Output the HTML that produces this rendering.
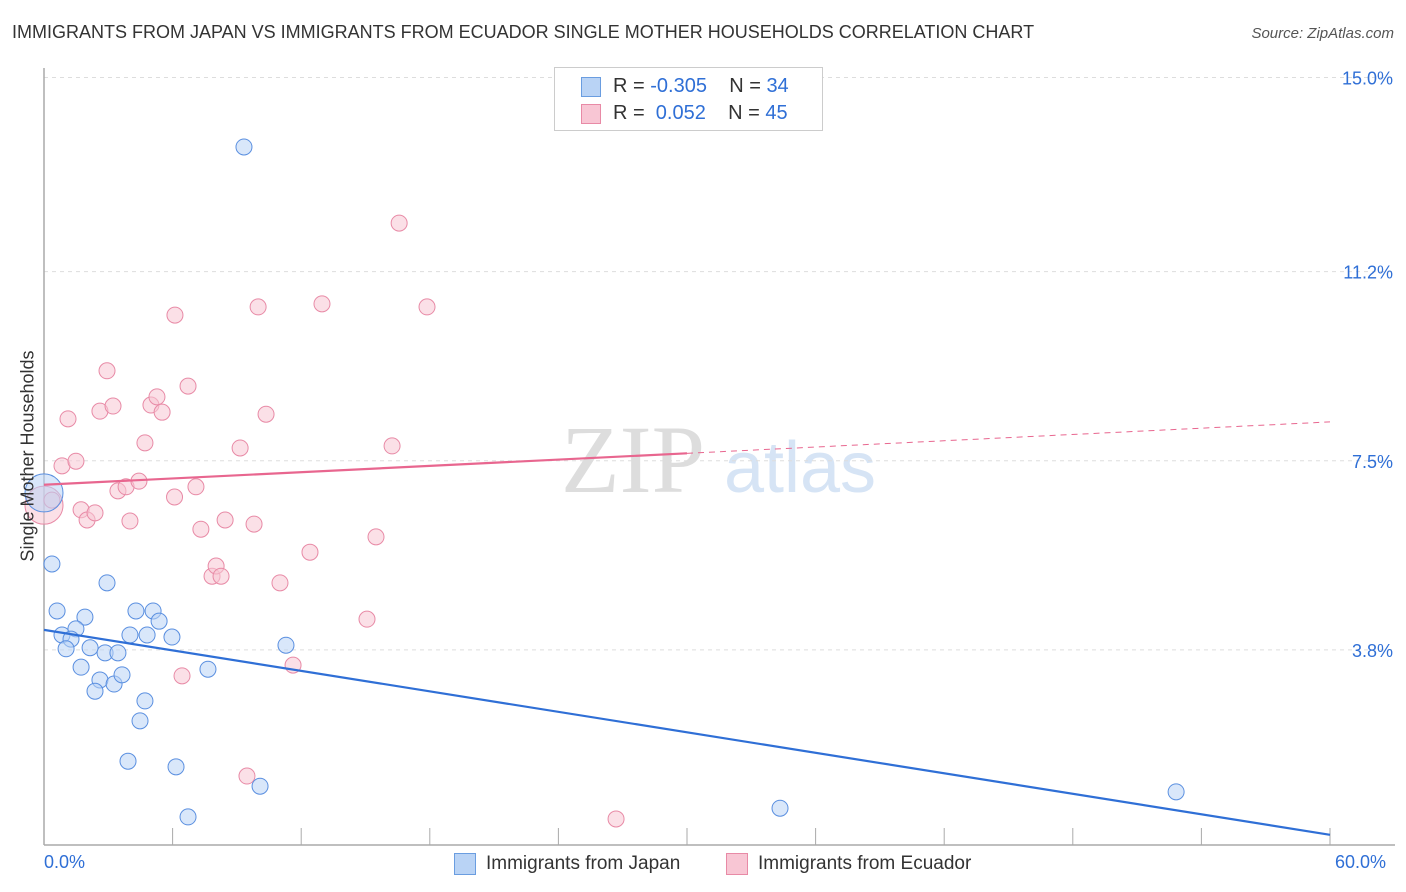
<!DOCTYPE html>
<html><head><meta charset="utf-8"><style>
body{margin:0;background:#fff;font-family:"Liberation Sans",sans-serif;}
#wrap{position:relative;width:1406px;height:892px;overflow:hidden;}
.t{position:absolute;white-space:nowrap;}
</style></head><body>
<div id="wrap">
<div class="t" style="left:12px;top:22px;font-size:18px;color:#333;">IMMIGRANTS FROM JAPAN VS IMMIGRANTS FROM ECUADOR SINGLE MOTHER HOUSEHOLDS CORRELATION CHART</div>
<div class="t" style="right:12px;top:25px;font-size:15px;color:#555;font-style:italic;">Source: ZipAtlas.com</div>
<svg id="svg" width="1406" height="892" style="position:absolute;left:0;top:0">
<text x="633" y="492" font-size="96" fill="#ddd" font-family="Liberation Serif" text-anchor="middle">ZIP</text>
<text x="800" y="492" font-size="72" fill="#d6e4f5" text-anchor="middle">atlas</text>
</svg>
<div style="position:absolute;left:554px;top:67px;width:267px;height:62px;border:1px solid #ccc;background:#fff;font-size:20px;">
 <div style="position:absolute;left:26px;top:9px;width:18px;height:18px;background:#b9d3f5;border:1px solid #6a9de0"></div>
 <div class="t" style="left:58px;top:7px;color:#333">R = <span style="color:#2f6fd6">-0.305</span>&nbsp;&nbsp;&nbsp; N = <span style="color:#2f6fd6">34</span></div>
 <div style="position:absolute;left:26px;top:36px;width:18px;height:18px;background:#f8c6d4;border:1px solid #e88aa6"></div>
 <div class="t" style="left:58px;top:34px;color:#333">R = &nbsp;<span style="color:#2f6fd6">0.052</span>&nbsp;&nbsp;&nbsp; N = <span style="color:#2f6fd6">45</span></div>
</div>
<div class="t" style="left:28px;top:456px;font-size:18px;color:#333;transform:translate(-50%,-50%) rotate(-90deg);">Single Mother Households</div>
<div class="t" style="left:44px;top:852px;font-size:18px;color:#2f6fd6;">0.0%</div>
<div class="t" style="left:1335px;top:852px;font-size:18px;color:#2f6fd6;">60.0%</div>
<div style="position:absolute;left:454px;top:853px;width:20px;height:20px;background:#b9d3f5;border:1px solid #6a9de0"></div>
<div class="t" style="left:486px;top:853px;font-size:19px;color:#333">Immigrants from Japan</div>
<div style="position:absolute;left:726px;top:853px;width:20px;height:20px;background:#f8c6d4;border:1px solid #e88aa6"></div>
<div class="t" style="left:758px;top:853px;font-size:19px;color:#333">Immigrants from Ecuador</div>
</div>
<script>
const yTicks=[3.8,7.5,11.2,15.0];
const yTickLabels=["3.8%","7.5%","11.2%","15.0%"];
const xTicks=[0,6,12,18,24,30,36,42,48,54,60];
const japanX=[0,0.37,0.61,1.91,0.84,1.49,1.26,1.03,2.15,2.85,3.45,1.73,2.61,3.27,3.64,2.38,2.94,4.29,5.09,5.37,4.01,4.81,5.97,4.71,4.48,7.65,11.29,3.92,6.16,10.08,6.72,9.33,34.34,52.82];
const japanY=[6.89,5.50,4.58,4.46,4.11,4.23,4.03,3.84,3.86,3.76,3.76,3.48,3.23,3.15,3.33,3.01,5.13,4.58,4.58,4.38,4.11,4.11,4.07,2.82,2.43,3.44,3.91,1.64,1.53,1.15,0.55,13.66,0.72,1.04];
const ecuadorX=[0,0.37,0.84,1.49,1.12,1.73,2.01,2.38,2.61,2.94,3.22,3.45,3.83,4.43,4.01,4.71,4.99,5.27,5.51,6.09,6.11,6.72,7.09,7.32,7.84,8.03,8.26,8.45,9.15,9.80,9.99,10.36,11.01,11.62,12.41,12.97,15.07,15.49,16.24,16.57,17.87,6.44,9.47,26.69,28.32];
const ecuadorY=[6.65,6.75,7.42,7.51,8.34,6.56,6.36,6.50,8.49,9.28,8.59,6.93,7.01,7.12,6.34,7.87,8.61,8.77,8.47,6.81,10.37,8.98,7.01,6.18,5.26,5.46,5.26,6.36,7.77,6.28,10.53,8.43,5.13,3.52,5.73,10.59,4.42,6.03,7.81,12.17,10.53,3.31,1.35,0.51,14.21];
const japanTrend=[4.21,0.20];
const ecuadorTrend=[7.05,8.28];
const X=v=>44+v*(1286/60);
const Y=v=>845-v*51.1;
const svg=document.getElementById('svg');
const NS='http://www.w3.org/2000/svg';
function mk(t,a){const e=document.createElementNS(NS,t);for(const k in a)e.setAttribute(k,a[k]);svg.appendChild(e);return e;}
yTicks.forEach((v,i)=>{
 const g=mk('line',{x1:44,x2:1395,y1:Y(v)-1,y2:Y(v)-1,stroke:'#ddd','stroke-dasharray':'4,4'});
 
 
 const t=mk('text',{x:1393,y:Y(v)+6,'text-anchor':'end','font-size':18,fill:'#2f6fd6'});
 t.textContent=yTickLabels[i];
 
 
});
const ax=mk('line',{x1:44,x2:44,y1:68,y2:845,stroke:'#aaa','stroke-width':1.5});


const bx=mk('line',{x1:44,x2:1395,y1:845,y2:845,stroke:'#aaa','stroke-width':1.5});


xTicks.forEach(v=>{
 const l=mk('line',{x1:X(v),x2:X(v),y1:828,y2:845,stroke:'#aaa'});
 
 
});
function pts(xs,ys,fill,stroke,name){
 xs.forEach((x,i)=>{
  const r=(x===0)?19:8;
  const c=mk('circle',{cx:X(x),cy:Y(ys[i]),r:r,fill:fill,'fill-opacity':0.55,stroke:stroke,'stroke-width':1});
  
  
 });
}
pts(ecuadorX,ecuadorY,'#f8c6d4','#e88aa6','ecuador-point');
pts(japanX,japanY,'#b9d3f5','#5a8fe0','japan-point');
const jl=mk('line',{x1:X(0),y1:Y(japanTrend[0]),x2:X(60),y2:Y(japanTrend[1]),stroke:'#2f6fd6','stroke-width':2.2});


const mid=ecuadorTrend[0]+(ecuadorTrend[1]-ecuadorTrend[0])*0.5;
const el1=mk('line',{x1:X(0),y1:Y(ecuadorTrend[0]),x2:X(30),y2:Y(mid),stroke:'#e8668f','stroke-width':2.2});


const el2=mk('line',{x1:X(30),y1:Y(mid),x2:X(60),y2:Y(ecuadorTrend[1]),stroke:'#e8668f','stroke-width':1,'stroke-dasharray':'6,5'});


</script>
</body></html>
